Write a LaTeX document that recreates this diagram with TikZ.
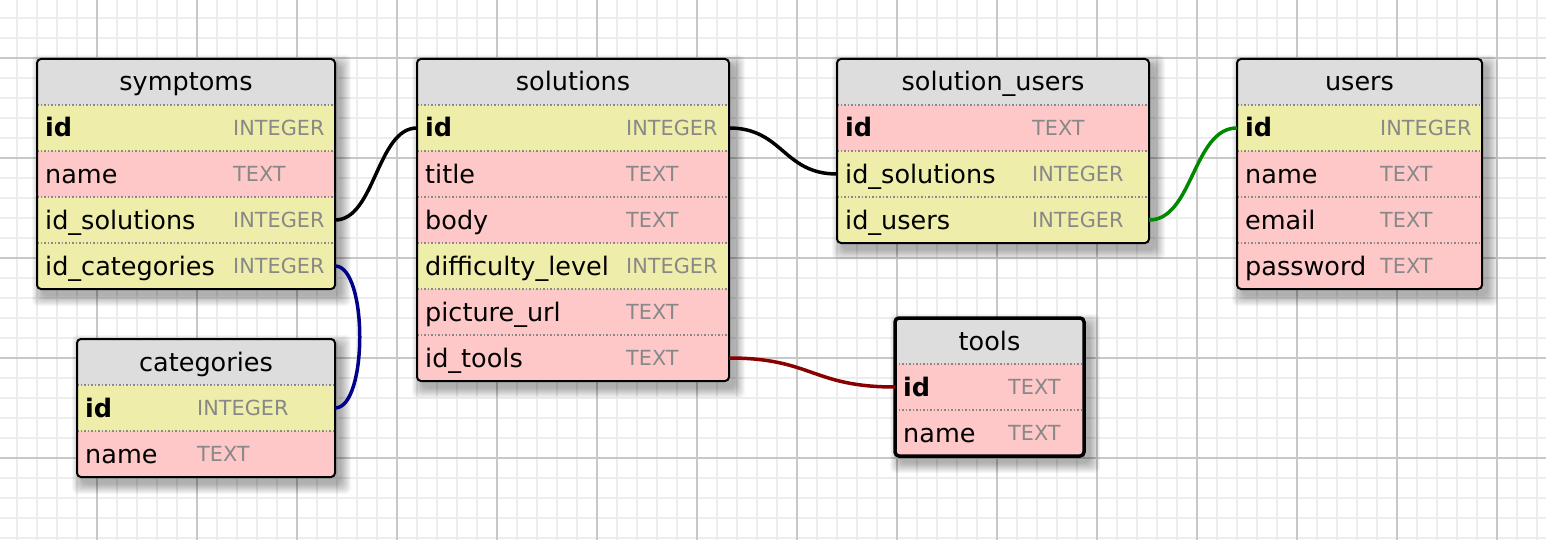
\documentclass[tikz,border=0pt]{standalone}
\usepackage{fontspec}
\setmainfont{DejaVu Sans}
\definecolor{rowyel}{HTML}{EEEEAA}
\definecolor{rowpink}{HTML}{FFC8C8}
\definecolor{hdrgray}{HTML}{DDDDDD}
\definecolor{typegray}{HTML}{888888}
\definecolor{minorgrid}{HTML}{EDEDED}
\definecolor{majorgrid}{HTML}{C8C8C8}
\definecolor{linkblue}{HTML}{000088}
\definecolor{linkgreen}{HTML}{008800}
\definecolor{linkred}{HTML}{880000}
\tikzset{
  hdrbox/.style={rectangle, anchor=north west, fill=hdrgray, minimum height=46pt, inner sep=0pt, outer sep=0pt},
  rowbox/.style={rectangle, anchor=north west, minimum height=46pt, inner sep=0pt, outer sep=0pt},
  titletext/.style={anchor=base, inner sep=0pt, font=\fontsize{25.5}{30}\selectfont},
  fieldtext/.style={anchor=base west, inner sep=0pt, font=\fontsize{25.5}{30}\selectfont},
  typetext/.style={anchor=base west, inner sep=0pt, text=typegray, font=\fontsize{20.8}{25}\selectfont},
  divider/.style={draw=typegray, line width=1.5pt, dash pattern=on 1.5pt off 2pt},
  tableline/.style={draw=black, line width=2pt},
  selline/.style={draw=black, line width=3.5pt},
  link/.style={line width=3.5pt},
  minorline/.style={draw=minorgrid, line width=2pt},
  majorline/.style={draw=majorgrid, line width=2pt}
}
\newcommand\tbegin[7]{% name, x, y, width, nrows, title, type offset
  \def\tx{#2}\def\ty{#3}\def\tw{#4}\def\toff{#7}%
  \pgfmathsetmacro\tbot{#3+46*(#5+1)}%
  \foreach \e in {0,...,10} {
    \fill[black, opacity=0.03, rounded corners=6pt] (#2+5-\e, #3+6-\e) rectangle (#2+#4+6+\e, \tbot+7+\e);
  }
  \begin{scope}
  \clip[rounded corners=4pt] (#2,#3) rectangle (#2+#4,\tbot);
  \node[hdrbox, minimum width=#4 pt] (#1) at (#2,#3) {};
  \node[titletext] (#1-title) at (#2+#4/2, #3+32) {#6};
}
\newcommand\trow[5]{% node name, index, field, type, fill
  \node[rowbox, fill=#5, minimum width=\tw pt] (#1) at (\tx, \ty+46*#2) {};
  \node[fieldtext] (#1-f) at (\tx+8, \ty+46*#2+32) {#3};
  \node[typetext] (#1-t) at (\tx+\toff, \ty+46*#2+30.5) {#4};
  \draw[divider] (\tx, \ty+46*#2) -- (\tx+\tw, \ty+46*#2);
}
\newcommand\tend[1]{%
  \end{scope}
  \draw[#1, rounded corners=4pt] (\tx,\ty) rectangle (\tx+\tw,\tbot);
}
\begin{document}
\begin{tikzpicture}[x=1pt, y=-1pt]
\useasboundingbox (0,0) rectangle (1546,540);
\fill[white] (0,0) rectangle (1546,540);
% grid
\foreach \gx in {17,37,...,1546} \draw[minorline] (\gx,0) -- (\gx,540);
\foreach \gy in {18,38,...,540} \draw[minorline] (0,\gy) -- (1546,\gy);
\foreach \gx in {97,197,...,1546} \draw[majorline] (\gx,0) -- (\gx,540);
\foreach \gy in {58,158,...,540} \draw[majorline] (0,\gy) -- (1546,\gy);

% symptoms
\tbegin{symptoms}{37}{59}{298}{4}{symptoms}{196}
\trow{sy-id}{1}{\bfseries id}{INTEGER}{rowyel}
\trow{sy-name}{2}{name}{TEXT}{rowpink}
\trow{sy-idsol}{3}{id\_solutions}{INTEGER}{rowyel}
\trow{sy-idcat}{4}{id\_categories}{INTEGER}{rowyel}
\tend{tableline}

% categories
\tbegin{categories}{77}{339}{258}{2}{categories}{120}
\trow{ca-id}{1}{\bfseries id}{INTEGER}{rowyel}
\trow{ca-name}{2}{name}{TEXT}{rowpink}
\tend{tableline}

% solutions
\tbegin{solutions}{417}{59}{312}{6}{solutions}{209}
\trow{so-id}{1}{\bfseries id}{INTEGER}{rowyel}
\trow{so-title}{2}{title}{TEXT}{rowpink}
\trow{so-body}{3}{body}{TEXT}{rowpink}
\trow{so-diff}{4}{difficulty\_level}{INTEGER}{rowyel}
\trow{so-pic}{5}{picture\_url}{TEXT}{rowpink}
\trow{so-idtools}{6}{id\_tools}{TEXT}{rowpink}
\tend{tableline}

% solution_users
\tbegin{solusers}{837}{59}{312}{3}{solution\_users}{195}
\trow{su-id}{1}{\bfseries id}{TEXT}{rowpink}
\trow{su-idsol}{2}{id\_solutions}{INTEGER}{rowyel}
\trow{su-idusers}{3}{id\_users}{INTEGER}{rowyel}
\tend{tableline}

% users
\tbegin{users}{1237}{59}{245}{4}{users}{143}
\trow{us-id}{1}{\bfseries id}{INTEGER}{rowyel}
\trow{us-name}{2}{name}{TEXT}{rowpink}
\trow{us-email}{3}{email}{TEXT}{rowpink}
\trow{us-pw}{4}{password}{TEXT}{rowpink}
\tend{tableline}

% tools
\tbegin{tools}{895}{318}{189}{2}{tools}{113}
\trow{to-id}{1}{\bfseries id}{TEXT}{rowpink}
\trow{to-name}{2}{name}{TEXT}{rowpink}
\tend{selline}

% connectors
\draw[link, black] (sy-idsol.east) .. controls +(40,0) and +(-40,0) .. (so-id.west);
\draw[link, linkblue] (sy-idcat.east) .. controls +(33,0) and +(33,0) .. (ca-id.east);
\draw[link, black] (so-id.east) .. controls +(54,0) and +(-54,0) .. (su-idsol.west);
\draw[link, linkgreen] (su-idusers.east) .. controls +(44,0) and +(-44,0) .. (us-id.west);
\draw[link, linkred] (so-idtools.east) .. controls +(83,0) and +(-83,0) .. (to-id.west);
\end{tikzpicture}
\end{document}
